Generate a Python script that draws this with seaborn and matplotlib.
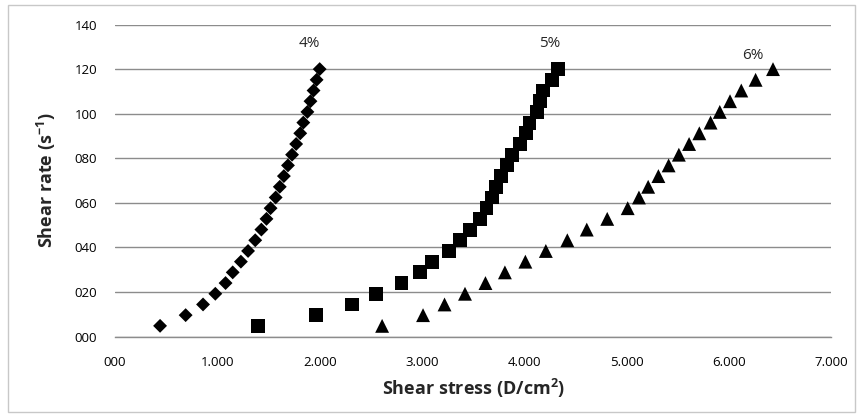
import matplotlib
matplotlib.use("Agg")
import matplotlib.pyplot as plt
import matplotlib.patches as mpatches
import seaborn as sns
import pandas as pd

# ---- data ----
shear_rate = [4.8, 9.6, 14.4, 19.2, 24.0, 28.8, 33.6, 38.4, 43.2, 48.0, 52.8, 57.6, 62.4,
              67.2, 72.0, 76.8, 81.6, 86.4, 91.2, 96.0, 100.8, 105.6, 110.4, 115.2, 120.0]
stress_4 = [0.44, 0.69, 0.86, 0.98, 1.08, 1.15, 1.23, 1.30, 1.37, 1.43, 1.48, 1.52, 1.57,
            1.61, 1.65, 1.69, 1.73, 1.77, 1.81, 1.84, 1.88, 1.91, 1.94, 1.97, 2.00]
stress_5 = [1.40, 1.96, 2.32, 2.55, 2.80, 2.98, 3.10, 3.26, 3.37, 3.47, 3.57, 3.63, 3.68,
            3.72, 3.77, 3.83, 3.88, 3.96, 4.02, 4.05, 4.12, 4.15, 4.18, 4.27, 4.33]
stress_6 = [2.61, 3.01, 3.22, 3.42, 3.62, 3.81, 4.01, 4.21, 4.42, 4.61, 4.81, 5.01, 5.12,
            5.21, 5.31, 5.41, 5.51, 5.61, 5.71, 5.82, 5.91, 6.01, 6.12, 6.26, 6.43]
series_names = ["4%", "5%", "6%"]
x_ticks = [0, 1, 2, 3, 4, 5, 6, 7]
x_tick_labels = ["000", "1.000", "2.000", "3.000", "4.000", "5.000", "6.000", "7.000"]
y_ticks = [0, 20, 40, 60, 80, 100, 120, 140]
y_tick_labels = ["000", "020", "040", "060", "080", "100", "120", "140"]
label_pos = [(1.90, 131.5), (4.25, 131.5), (6.23, 126.0)]

df = pd.concat([
    pd.DataFrame({"stress": stress_4, "rate": shear_rate, "conc": series_names[0]}),
    pd.DataFrame({"stress": stress_5, "rate": shear_rate, "conc": series_names[1]}),
    pd.DataFrame({"stress": stress_6, "rate": shear_rate, "conc": series_names[2]}),
])

sns.set_theme(style="white")
plt.rcParams["font.family"] = ["Open Sans", "DejaVu Sans"]
plt.rcParams["mathtext.fontset"] = "custom"
plt.rcParams["mathtext.rm"] = "Open Sans"
plt.rcParams["mathtext.bf"] = "Open Sans:bold"

fig = plt.figure(figsize=(8.63, 4.16), dpi=100)
ax = fig.add_axes([0.1333, 0.191, 0.83, 0.750])

markers = {"4%": "D", "5%": "s", "6%": "^"}
sizes = {"4%": 50, "5%": 100, "6%": 100}
for name in series_names:
    sub = df[df["conc"] == name]
    sns.scatterplot(data=sub, x="stress", y="rate", marker=markers[name], s=sizes[name],
                    color="black", edgecolor="none", ax=ax, legend=False, zorder=3)

ax.set_xlim(0, 7)
ax.set_ylim(0, 140)
ax.set_xticks(x_ticks)
ax.set_xticklabels(x_tick_labels)
ax.set_yticks(y_ticks)
ax.set_yticklabels(y_tick_labels)
ax.tick_params(axis="both", labelsize=9.5, colors="#000000", length=0)
ax.tick_params(axis="y", pad=13)
ax.tick_params(axis="x", length=4, width=0.8, color="#888888", direction="out", pad=10)

ax.grid(axis="y", color="#8c8c8c", linewidth=1.0)
ax.grid(axis="x", visible=False)
ax.set_axisbelow(True)
for side in ["top", "right", "left"]:
    ax.spines[side].set_visible(False)
ax.spines["bottom"].set_color("#8c8c8c")
ax.spines["bottom"].set_linewidth(1.0)

ax.set_xlabel(r"Shear stress (D/cm$^{\mathbf{2}}$)", fontsize=13, fontweight="bold", labelpad=6)
ax.set_ylabel(r"Shear rate (s$^{\mathbf{-1}}$)", fontsize=13, fontweight="bold", labelpad=12)

for name, (lx, ly) in zip(series_names, label_pos):
    ax.text(lx, ly, name, fontsize=11, ha="center", va="center", clip_on=False)

fig.patches.append(mpatches.Rectangle((0.009, 0.010), 0.982, 0.978, transform=fig.transFigure,
                                      fill=False, edgecolor="#c8c8c8", linewidth=1.0))

fig.savefig("out.png", dpi=100)
